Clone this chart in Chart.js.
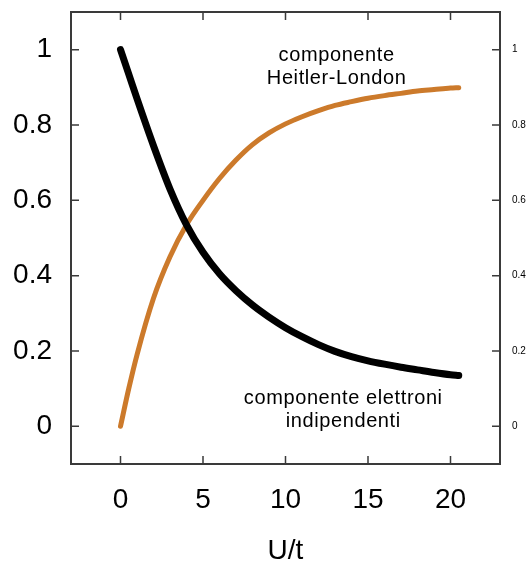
<!DOCTYPE html>
<html>
<head>
<meta charset="utf-8">
<script src="https://cdn.jsdelivr.net/npm/chart.js@4/dist/chart.umd.min.js"></script>
<style>
  html, body { margin: 0; padding: 0; background: #fff; }
  #wrap { width: 529px; height: 565px; }
</style>
</head>
<body>
<div id="wrap"><canvas id="myChart"></canvas></div>
<script>
// U/t values and the two weights
const uValues = [0, 0.5, 1, 2, 3, 4, 5, 6, 7, 8, 9, 10, 11, 12, 13, 14, 15, 16, 17, 18, 19, 20, 20.5];
const independentWeights = [1.0, 0.935, 0.87, 0.745, 0.63, 0.535, 0.462, 0.405, 0.36, 0.322, 0.29, 0.262,
  0.238, 0.217, 0.199, 0.185, 0.174, 0.165, 0.157, 0.15, 0.143, 0.137, 0.135];
const heitlerLondonWeights = [0, 0.1, 0.19, 0.34, 0.45, 0.535, 0.6, 0.658, 0.707, 0.748, 0.779, 0.803,
  0.822, 0.838, 0.852, 0.862, 0.871, 0.878, 0.884, 0.89, 0.894, 0.898, 0.899];
const xTicks = [0, 5, 10, 15, 20];
const yTicks = [0, 0.2, 0.4, 0.6, 0.8, 1];
const xLabel = 'U/t';
const notes = [
  { x: 13.1, y: 0.985, text: 'componente' },
  { x: 13.1, y: 0.924, text: 'Heitler-London' },
  { x: 13.5, y: 0.074, text: 'componente elettroni' },
  { x: 13.5, y: 0.013, text: 'indipendenti' }
];

const FONT = '"Liberation Sans", Arial, Helvetica, sans-serif';
const AXIS = '#3a3a3a';

const toPoints = (ys) => uValues.map((u, i) => ({ x: u, y: ys[i] }));
const fixTicks = (list) => (scale) => { scale.ticks = list.map(v => ({ value: v })); };
const fmt = (v) => String(Math.round(v * 10) / 10);
// pin an axis box to a fixed size and drop the label overhang padding
const pin = (prop, size) => (s) => {
  s[prop] = size;
  s.paddingTop = s.paddingBottom = s.paddingLeft = s.paddingRight = 0;
};

// inward tick marks on all four sides, plus the two captions
const decorations = {
  id: 'decorations',
  afterDraw(chart) {
    const { ctx, chartArea: a, scales } = chart;
    const len = 8;
    ctx.save();
    ctx.strokeStyle = AXIS;
    ctx.lineWidth = 1.5;
    ctx.beginPath();
    xTicks.forEach(v => {
      const px = scales.x.getPixelForValue(v);
      ctx.moveTo(px, a.bottom); ctx.lineTo(px, a.bottom - len);
      ctx.moveTo(px, a.top); ctx.lineTo(px, a.top + len);
    });
    yTicks.forEach(v => {
      const py = scales.y.getPixelForValue(v);
      ctx.moveTo(a.left, py); ctx.lineTo(a.left + len, py);
      ctx.moveTo(a.right, py); ctx.lineTo(a.right - len, py);
    });
    ctx.stroke();

    ctx.fillStyle = '#000';
    ctx.font = '20px ' + FONT;
    ctx.letterSpacing = '0.6px';
    ctx.textAlign = 'center';
    ctx.textBaseline = 'middle';
    notes.forEach(n => {
      ctx.fillText(n.text, scales.x.getPixelForValue(n.x), scales.y.getPixelForValue(n.y));
    });
    ctx.restore();
  }
};

const ctx = document.getElementById('myChart').getContext('2d');
const chart = new Chart(ctx, {
  type: 'scatter',
  data: {
    datasets: [
      {
        label: 'componente elettroni indipendenti',
        data: toPoints(independentWeights),
        showLine: true,
        borderColor: '#000000',
        borderWidth: 7,
        borderCapStyle: 'round',
        pointRadius: 0,
        cubicInterpolationMode: 'monotone'
      },
      {
        label: 'componente Heitler-London',
        data: toPoints(heitlerLondonWeights),
        showLine: true,
        borderColor: '#cc7a2b',
        borderWidth: 5,
        borderCapStyle: 'round',
        pointRadius: 0,
        cubicInterpolationMode: 'monotone'
      }
    ]
  },
  options: {
    responsive: true,
    maintainAspectRatio: false,
    animation: false,
    layout: { padding: 0 },
    plugins: { legend: { display: false }, tooltip: { enabled: false } },
    scales: {
      x: {
        type: 'linear', position: 'bottom', min: -3, max: 23,
        afterBuildTicks: fixTicks(xTicks),
        afterFit: pin('height', 101),
        grid: { display: false, drawTicks: false },
        border: { display: true, color: AXIS, width: 2 },
        ticks: { color: '#000', padding: 19, font: { family: FONT, size: 28 } },
        title: { display: true, text: xLabel, color: '#000', padding: { top: 0, bottom: 0 },
                 font: { family: FONT, size: 28, lineHeight: 1 } }
      },
      x2: {
        type: 'linear', position: 'top', min: -3, max: 23,
        afterFit: pin('height', 12),
        grid: { display: false, drawTicks: false },
        border: { display: true, color: AXIS, width: 2 },
        ticks: { display: false }
      },
      y: {
        type: 'linear', position: 'left', min: -0.1, max: 1.1,
        afterBuildTicks: fixTicks(yTicks),
        afterFit: pin('width', 71),
        grid: { display: false, drawTicks: false },
        border: { display: true, color: AXIS, width: 2 },
        ticks: { color: '#000', padding: 19, callback: fmt, font: { family: FONT, size: 28 } }
      },
      y2: {
        type: 'linear', position: 'right', min: -0.1, max: 1.1,
        afterBuildTicks: fixTicks(yTicks),
        afterFit: pin('width', 29),
        grid: { display: false, drawTicks: false },
        border: { display: true, color: AXIS, width: 2 },
        ticks: { color: '#000', padding: 12, callback: fmt, font: { family: FONT, size: 10 } }
      }
    }
  },
  plugins: [decorations]
});
</script>
</body>
</html>
